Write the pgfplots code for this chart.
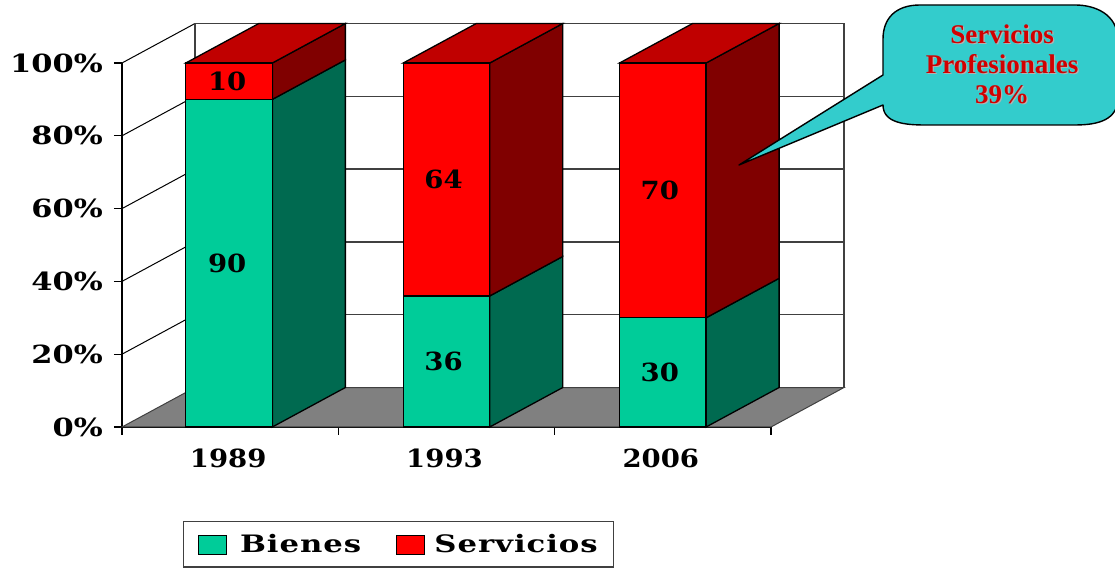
\documentclass[border=0pt]{standalone}
\usepackage{pgfplots}
\pgfplotsset{compat=1.18}
\usepackage{fontspec}
\setmainfont{DejaVu Serif}
\newfontfamily\tickfont[FakeStretch=1.22]{DejaVu Serif Bold}
\newfontfamily\valfont[FakeStretch=1.1]{DejaVu Serif Bold}
\newfontfamily\legfont[FakeStretch=1.28,LetterSpace=4]{DejaVu Serif Bold}
\newfontfamily\notefont{Liberation Serif Bold}
\definecolor{bienes}{HTML}{00CC99}
\definecolor{bienesside}{HTML}{006A50}
\definecolor{serv}{HTML}{FF0000}
\definecolor{servside}{HTML}{800000}
\definecolor{servtop}{HTML}{C00000}
\definecolor{floorgray}{HTML}{808080}
\definecolor{wallline}{HTML}{404040}
\definecolor{notefill}{HTML}{33CCCC}
\definecolor{notetext}{HTML}{D00000}

% depth of the box: 0.3375 category units across, 10.85 percent up
\newcommand{\wallgrid}[1]{%
  \pgfmathsetmacro{\yb}{#1+10.85}%
  \addplot[forget plot,black,line width=1pt] coordinates {(-0.5,#1) (-0.1625,\yb)};
  \addplot[forget plot,wallline,line width=1.3pt] coordinates {(-0.1625,\yb) (2.8375,\yb)};
}
% one stacked column: centre, lower share, upper share
\newcommand{\stackcol}[3]{%
  \pgfmathsetmacro{\xl}{#1-0.2}%
  \pgfmathsetmacro{\xr}{#1+0.2}%
  \pgfmathsetmacro{\xbl}{#1+0.1375}%
  \pgfmathsetmacro{\xbr}{#1+0.5375}%
  \pgfmathsetmacro{\ya}{#2}%
  \pgfmathsetmacro{\yab}{#2+10.85}%
  \pgfmathsetmacro{\yt}{#2+#3}%
  \pgfmathsetmacro{\ytb}{#2+#3+10.85}%
  \addplot[forget plot,draw=black,line width=1.3pt,fill=bienesside] coordinates {(\xr,0) (\xbr,10.85) (\xbr,\yab) (\xr,\ya)} --cycle;
  \addplot[forget plot,draw=black,line width=1.3pt,fill=servside] coordinates {(\xr,\ya) (\xbr,\yab) (\xbr,\ytb) (\xr,\yt)} --cycle;
  \addplot[forget plot,draw=black,line width=1.3pt,fill=servtop] coordinates {(\xl,\yt) (\xbl,\ytb) (\xbr,\ytb) (\xr,\yt)} --cycle;
  \addplot[forget plot,draw=black,line width=1.3pt,fill=bienes] coordinates {(\xl,0) (\xl,\ya) (\xr,\ya) (\xr,0)} --cycle;
  \addplot[forget plot,draw=black,line width=1.3pt,fill=serv] coordinates {(\xl,\ya) (\xl,\yt) (\xr,\yt) (\xr,\ya)} --cycle;
}

\begin{document}
\begin{tikzpicture}[x=1pt,y=1pt]
\useasboundingbox (0,0) rectangle (1115,569);
\begin{axis}[
  at={(122pt,142pt)}, anchor=south west,
  scale only axis, width=649pt, height=364pt,
  clip=false,
  xmin=-0.5, xmax=2.5, ymin=0, ymax=100,
  axis lines=left, axis line style={-,black,line width=1.3pt},
  xtick={-0.5,0.5,1.5,2.5}, xticklabels={},
  extra x ticks={0,1,2},
  extra x tick labels={1989,1993,2006},
  extra x tick style={tick style={draw=none}},
  ytick={0,20,40,60,80,100},
  yticklabel={\pgfmathprintnumber{\tick}\%},
  /pgf/number format/assume math mode=true,
  major tick length=8pt,
  tick align=outside,
  tick style={black,line width=1.3pt},
  yticklabel style={font=\tickfont\fontsize{25}{25}\selectfont,inner sep=0pt,xshift=-11pt,anchor=east},
  xticklabel style={font=\valfont\fontsize{25}{25}\selectfont,inner sep=0pt,yshift=-14pt,xshift=-2pt},
  legend columns=2,
  legend cell align=left,
  legend style={at={(0.094,-0.387)},anchor=south west,draw=wallline,line width=1.4pt,
    inner xsep=14pt,inner ysep=11pt,
    font=\legfont\fontsize{24}{24}\selectfont,
    /tikz/every even column/.append style={column sep=33pt}},
]
% floor and walls behind the columns
\addplot[forget plot,draw=wallline,line width=1pt,fill=floorgray] coordinates {(-0.5,0) (-0.1625,10.85) (2.8375,10.85) (2.5,0)} --cycle;
\wallgrid{20}
\wallgrid{40}
\wallgrid{60}
\wallgrid{80}
\wallgrid{100}
\addplot[forget plot,wallline,line width=1.3pt] coordinates {(-0.1625,10.85) (-0.1625,110.85)};
\addplot[forget plot,wallline,line width=1.5pt] coordinates {(2.8375,10.85) (2.8375,110.85)};

\stackcol{-0.005}{90}{10}
\stackcol{1.0}{36}{64}
\stackcol{2.0}{30}{70}

% value labels at the middle of each segment
\addplot[forget plot,draw=none,mark=none,
  nodes near coords,point meta=explicit symbolic,
  nodes near coords align={center},
  nodes near coords style={font=\valfont\fontsize{25}{25}\selectfont,text=black,xshift=-3pt}]
  coordinates {(0,45)[90] (0,95)[10] (1,18)[36] (1,68)[64] (2,15)[30] (2,65)[70]};

\addlegendimage{legend image code/.code={\draw[draw=black,line width=1.3pt,fill=bienes] (0pt,-10pt) rectangle (28pt,9pt);}}
\addlegendentry{\hspace{11pt}Bienes}
\addlegendimage{legend image code/.code={\draw[draw=black,line width=1.3pt,fill=serv] (0pt,-10pt) rectangle (28pt,9pt);}}
\addlegendentry{\hspace{7pt}Servicios\hspace{2pt}}
\end{axis}
% callout
\draw[line width=1.4pt,fill=notefill,line join=round]
  (883,494) -- (739,404) -- (883,464)
  .. controls (883,446) and (905,444) .. (925,444)
  -- (1075,444)
  .. controls (1100,444) and (1117,450) .. (1118,470)
  -- (1118,530)
  .. controls (1117,555) and (1095,564) .. (1075,564)
  -- (920,564)
  .. controls (895,564) and (883,550) .. (883,530)
  -- cycle;
\node[text=black!30,align=center,font=\notefont\fontsize{27}{30}\selectfont,inner sep=0pt] at (1003.4,503.9) {Servicios\\Profesionales\\39\%};
\node[text=notetext,align=center,font=\notefont\fontsize{27}{30}\selectfont,inner sep=0pt] at (1002,505) {Servicios\\Profesionales\\39\%};
\end{tikzpicture}
\end{document}
